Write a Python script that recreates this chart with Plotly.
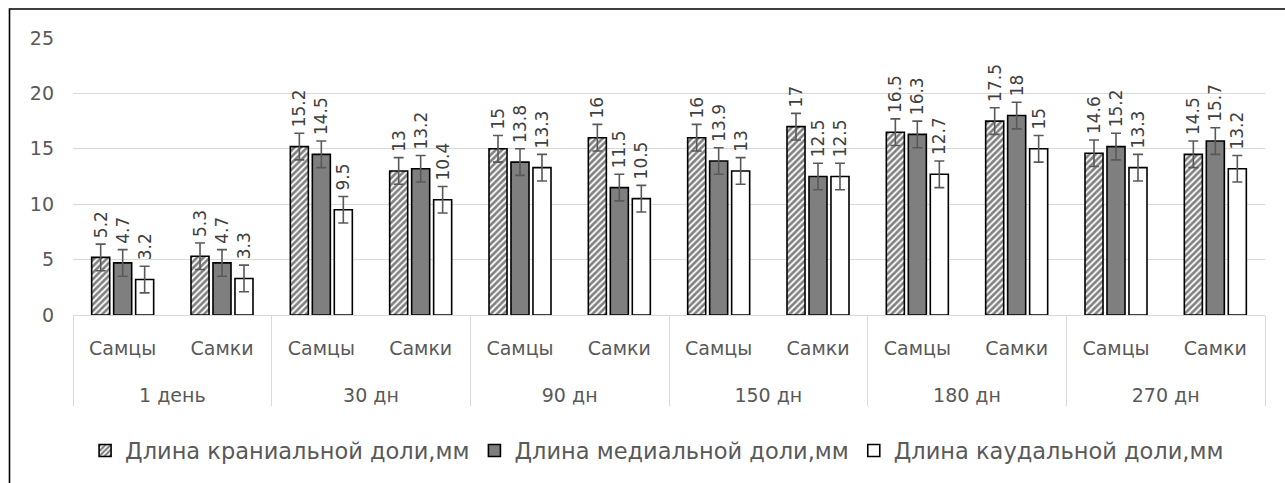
import plotly.graph_objects as go

periods = ["1 день", "30 дн", "90 дн", "150 дн", "180 дн", "270 дн"]
sexes = ["Самцы", "Самки"]
series_names = ["Длина краниальной доли,мм", "Длина медиальной доли,мм", "Длина каудальной доли,мм"]

cranial = [5.2, 5.3, 15.2, 13, 15, 16, 16, 17, 16.5, 17.5, 14.6, 14.5]
medial = [4.7, 4.7, 14.5, 13.2, 13.8, 11.5, 13.9, 12.5, 16.3, 18, 15.2, 15.7]
caudal = [3.2, 3.3, 9.5, 10.4, 13.3, 10.5, 13, 12.5, 12.7, 15, 13.3, 13.2]

cranial_err = [1.2, 1.2, 1.2, 1.2, 1.2, 1.2, 1.2, 1.2, 1.2, 1.2, 1.2, 1.2]
medial_err = [1.2, 1.2, 1.2, 1.2, 1.2, 1.2, 1.2, 1.2, 1.2, 1.2, 1.2, 1.2]
caudal_err = [1.2, 1.2, 1.2, 1.2, 1.2, 1.2, 1.2, 1.2, 1.2, 1.2, 1.2, 1.2]

y_ticks = [0, 5, 10, 15, 20, 25]

# spacing helpers for the two-level category axis (invisible padding only)
PAD = "<span style='font-size:31px'>\u00a0</span>"
x_multi = [["\u00a0<br>" + p for p in periods for s in sexes],
           [PAD + s + PAD for p in periods for s in sexes]]

FONT = "DejaVu Sans"
TXT = "#595959"

styles = [
    dict(color="white", pattern=dict(shape="/", fgcolor="black", bgcolor="white", size=4.5, solidity=0.6)),
    dict(color="#7f7f7f"),
    dict(color="white"),
]

fig = go.Figure()
for name, vals, errs, st in zip(series_names, [cranial, medial, caudal],
                                [cranial_err, medial_err, caudal_err], styles):
    fig.add_trace(go.Bar(
        name=name,
        x=x_multi,
        y=vals,
        marker=dict(line=dict(color="black", width=1.6), **st),
        error_y=dict(type="data", array=errs, visible=True, color="#595959", thickness=1.6, width=5),
        text=["\u00a0\u00a0\u00a0" + f"{v:g}" for v in vals],
        textposition="outside",
        textangle=-90,
        constraintext="none",
        cliponaxis=False,
        textfont=dict(family=FONT, size=17, color="#404040"),
    ))

fig.update_layout(
    width=1285, height=483,
    paper_bgcolor="white", plot_bgcolor="white",
    margin=dict(l=73, r=20, t=38, b=167),
    barmode="group", bargap=0.336, bargroupgap=0.18,
    font=dict(family=FONT, color=TXT, size=19),
    showlegend=True,
    legend=dict(orientation="h", x=0.49, xanchor="center", y=-0.485, yanchor="middle",
                font=dict(family=FONT, size=22.5, color=TXT), traceorder="normal"),
)

fig.update_yaxes(range=[0, 25], tickvals=y_ticks, showgrid=True, gridcolor="#d9d9d9", gridwidth=1.3,
                 zeroline=False, showline=False, ticks="", ticklabelstandoff=18,
                 tickfont=dict(family=FONT, size=19, color=TXT))
fig.update_xaxes(type="multicategory", showline=True, linecolor="#d9d9d9", linewidth=1.3,
                 showdividers=True, dividercolor="#d9d9d9", dividerwidth=1.3,
                 ticks="", ticklabelstandoff=16,
                 tickfont=dict(family=FONT, size=19, color=TXT))

# outer chart border (partially outside the visible window, as in the original)
fig.add_shape(type="rect", xref="paper", yref="paper",
              x0=(9.5 - 73) / 1192, x1=(1292 - 73) / 1192,
              y0=(316 - 495) / 278.3, y1=(316 - 8.5) / 278.3,
              line=dict(color="black", width=1.6), fillcolor="rgba(0,0,0,0)", layer="below")

fig.write_html("out.html", config={"displayModeBar": False},
               post_script="document.body.style.margin='0';document.body.style.overflow='hidden';")
